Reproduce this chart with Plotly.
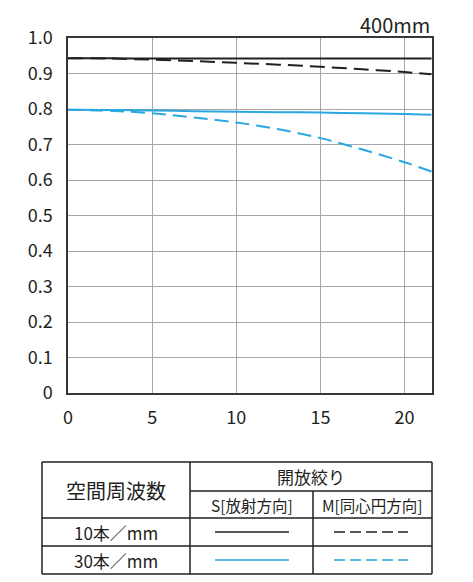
import plotly.graph_objects as go

# ---- data ----
x_vals = [0, 2.5, 5, 7.5, 10, 12.5, 15, 17.5, 20, 21.6]
s10 = [0.943, 0.943, 0.942, 0.942, 0.942, 0.942, 0.942, 0.942, 0.942, 0.942]
m10 = [0.943, 0.942, 0.939, 0.935, 0.930, 0.925, 0.919, 0.912, 0.904, 0.898]
s30 = [0.798, 0.797, 0.796, 0.794, 0.792, 0.791, 0.790, 0.788, 0.786, 0.784]
m30 = [0.798, 0.795, 0.788, 0.776, 0.762, 0.743, 0.718, 0.686, 0.650, 0.624]

x_ticks = [0, 5, 10, 15, 20]
y_ticks = [0, 0.1, 0.2, 0.3, 0.4, 0.5, 0.6, 0.7, 0.8, 0.9, 1.0]
y_ticktext = ["0", "0.1", "0.2", "0.3", "0.4", "0.5", "0.6", "0.7", "0.8", "0.9", "1.0"]

focal_label = "400mm"
header_freq = "空間周波数"
header_ap = "開放絞り"
header_s = "S[放射方向]"
header_m = "M[同心円方向]"
row_labels = ["10本／mm", "30本／mm"]

BLACK = "#231f20"
BLUE = "#2aa7e1"
FONT = "Noto Sans CJK JP"

# page body has an 8px margin; work in page pixel coordinates
OFF = 8
W, H = 473 - OFF, 582 - OFF
# plot area in page pixels: x 68..432, y 38..393
ML = 68 - OFF
MT = 38 - OFF
MR = 473 - 432
MB = 582 - 393
PW = W - ML - MR
PH = H - MT - MB


def px(x):
    return (x - OFF - ML) / PW


def py(y):
    return (H - MB - (y - OFF)) / PH


fig = go.Figure()
fig.add_trace(go.Scatter(x=x_vals, y=s10, mode="lines", line=dict(color=BLACK, width=2, shape="spline")))
fig.add_trace(go.Scatter(x=x_vals, y=m10, mode="lines", line=dict(color=BLACK, width=2, dash="15px,7px", shape="spline")))
fig.add_trace(go.Scatter(x=x_vals, y=s30, mode="lines", line=dict(color=BLUE, width=2, shape="spline")))
fig.add_trace(go.Scatter(x=x_vals, y=m30, mode="lines", line=dict(color=BLUE, width=2, dash="14px,7px", shape="spline")))

shapes = []
ann = []

# table geometry (page pixels)
tx0, tx1 = 42, 432
ty0, ty1 = 462, 574
cx1, cx2 = 190, 313
ry1, ry2, ry3 = 491, 518, 546
lw = 1.5
line_c = "#231f20"


def hline(x0, x1, y):
    shapes.append(dict(type="line", xref="paper", yref="paper", x0=px(x0), x1=px(x1), y0=py(y), y1=py(y),
                       line=dict(color=line_c, width=lw)))


def vline(x, y0, y1):
    shapes.append(dict(type="line", xref="paper", yref="paper", x0=px(x), x1=px(x), y0=py(y0), y1=py(y1),
                       line=dict(color=line_c, width=lw)))


hline(tx0, tx1, ty0)
hline(tx0, tx1, ty1)
vline(tx0, ty0, ty1)
vline(tx1, ty0, ty1)
vline(cx1, ty0, ty1)
vline(cx2, ry1, ty1)
hline(cx1, tx1, ry1)
hline(tx0, tx1, ry2)
hline(tx0, tx1, ry3)


def text(t, x, y, size):
    ann.append(dict(text=t, xref="paper", yref="paper", x=px(x), y=py(y), showarrow=False,
                    xanchor="center", yanchor="middle", font=dict(family=FONT, size=size, color="#231f20")))


text(header_freq, (tx0 + cx1) / 2, (ty0 + ry2) / 2, 20)
text(header_ap, (cx1 + tx1) / 2, (ty0 + ry1) / 2, 17)
text(header_s, (cx1 + cx2) / 2, (ry1 + ry2) / 2, 15.5)
text(header_m, (cx2 + tx1) / 2, (ry1 + ry2) / 2, 15.5)
text(row_labels[0], (tx0 + cx1) / 2, (ry2 + ry3) / 2, 17)
text(row_labels[1], (tx0 + cx1) / 2, (ry3 + ty1) / 2, 17)

# legend samples
for (yy, col) in [((ry2 + ry3) / 2, BLACK), ((ry3 + ty1) / 2, BLUE)]:
    shapes.append(dict(type="line", xref="paper", yref="paper", x0=px(215), x1=px(289), y0=py(yy), y1=py(yy),
                       line=dict(color=col, width=1.5)))
    shapes.append(dict(type="line", xref="paper", yref="paper", x0=px(334), x1=px(408), y0=py(yy), y1=py(yy),
                       line=dict(color=col, width=1.5, dash="11px,5px")))

ann.append(dict(text=focal_label, xref="paper", yref="paper", x=1, y=py(24), showarrow=False,
                xanchor="right", yanchor="middle", font=dict(family=FONT, size=20, color="#231f20")))

fig.update_layout(
    width=W, height=H,
    margin=dict(l=ML, r=MR, t=MT, b=MB, pad=0),
    paper_bgcolor="white", plot_bgcolor="white",
    showlegend=False,
    shapes=shapes, annotations=ann,
    font=dict(family=FONT, color="#231f20"),
)
fig.update_xaxes(range=[0, 21.63], tickvals=x_ticks, showgrid=True, gridcolor="#a6a6a6", gridwidth=1,
                 showline=True, linecolor="#3a3536", linewidth=1.5, mirror=True, zeroline=False,
                 ticks="", ticklabelstandoff=8, tickfont=dict(family=FONT, size=18, color="#231f20"))
fig.update_yaxes(range=[0, 1.0], tickvals=y_ticks, ticktext=y_ticktext, showgrid=True, gridcolor="#a6a6a6",
                 gridwidth=1, showline=True, linecolor="#3a3536", linewidth=1.5, mirror=True, zeroline=False,
                 ticks="", ticklabelstandoff=10, tickfont=dict(family=FONT, size=18, color="#231f20"))

fig.write_html("out.html")
